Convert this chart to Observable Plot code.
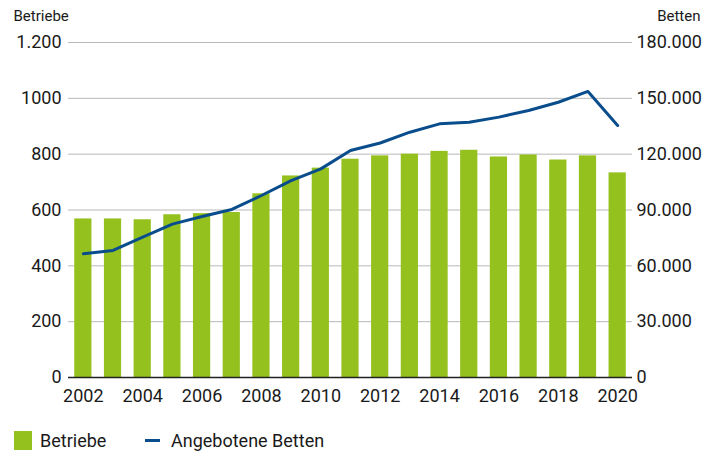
<!DOCTYPE html>
<html>
<head>
<meta charset="utf-8">
<script src="https://cdn.jsdelivr.net/npm/d3@7"></script>
<script src="https://cdn.jsdelivr.net/npm/@observablehq/plot@0.6"></script>
<style>
  body { margin: 0; background: #fff; font-family: Roboto, "Noto Sans", sans-serif; color: #1a1a1a; }
  #chart { position: relative; width: 707px; }
  .legend { position: relative; height: 42px; width: 707px; font-size: 18px; }
  .legend .item { position: absolute; top: 4px; display: flex; align-items: center; height: 42px; }
</style>
</head>
<body>
<div id="chart"></div>
<div class="legend">
  <div class="item" style="left:14px"><span style="display:inline-block;width:18px;height:19px;background:#95c11f;margin-right:8px"></span>Betriebe</div>
  <div class="item" style="left:145px"><span style="display:inline-block;width:15px;height:3px;background:#0a4d8c;margin-right:11px"></span>Angebotene Betten</div>
</div>
<script>
const years = [2002, 2003, 2004, 2005, 2006, 2007, 2008, 2009, 2010, 2011, 2012, 2013, 2014, 2015, 2016, 2017, 2018, 2019, 2020];
const betriebe = [568, 568, 565, 583, 587, 591, 658, 722, 750, 782, 794, 800, 810, 814, 790, 797, 779, 794, 733];
const betten = [66500, 68300, 75400, 82400, 86500, 90300, 97800, 105800, 112100, 122000, 126000, 131800, 136300, 137200, 139900, 143500, 147900, 153700, 135400];
const leftTicks = [0, 200, 400, 600, 800, 1000, 1200];
const leftLabels = ["0", "200", "400", "600", "800", "1000", "1.200"];
const rightTicks = [0, 30000, 60000, 90000, 120000, 150000, 180000];
const rightLabels = ["0", "30.000", "60.000", "90.000", "120.000", "150.000", "180.000"];
const xTicks = [2002, 2004, 2006, 2008, 2010, 2012, 2014, 2016, 2018, 2020];

const ratio = rightTicks[rightTicks.length - 1] / leftTicks[leftTicks.length - 1];
const data = years.map((y, i) => ({year: y, betriebe: betriebe[i], betten: betten[i]}));

const chart = Plot.plot({
  width: 707,
  height: 415,
  marginTop: 42,
  marginBottom: 38,
  marginLeft: 68,
  marginRight: 75,
  style: {fontFamily: "Roboto, 'Noto Sans', sans-serif", fontSize: "18px", color: "#1a1a1a", background: "white", overflow: "visible"},
  x: {type: "band", domain: years, paddingInner: 0.42, paddingOuter: 0.21, round: false, label: null},
  y: {domain: [0, 1200], label: null},
  marks: [
    Plot.gridY(leftTicks, {stroke: "#b9b9b9", strokeOpacity: 1, strokeWidth: 1}),
    Plot.barY(data, {x: "year", y: "betriebe", fill: "#95c11f"}),
    Plot.ruleY([0], {stroke: "#222", strokeWidth: 1.5}),
    Plot.line(data, {x: "year", y: d => d.betten / ratio, stroke: "#0a4d8c", strokeWidth: 3, strokeLinejoin: "round"}),
    Plot.axisY(leftTicks, {anchor: "left", tickSize: 0, tickPadding: 7, tickFormat: d => leftLabels[leftTicks.indexOf(d)], label: null}),
    Plot.axisY(leftTicks, {anchor: "right", tickSize: 0, tickPadding: 4, tickFormat: d => rightLabels[leftTicks.indexOf(d)], label: null}),
    Plot.axisX(xTicks, {tickSize: 0, tickPadding: 12, tickFormat: d => String(d), label: null}),
    Plot.text(["Betriebe"], {frameAnchor: "top-left", text: d => d, dx: -55, dy: -32, textAnchor: "start", lineAnchor: "top", fontSize: 15}),
    Plot.text(["Betten"], {frameAnchor: "top-right", text: d => d, dx: 68, dy: -32, textAnchor: "end", lineAnchor: "top", fontSize: 15})
  ]
});
document.getElementById("chart").appendChild(chart);
</script>
</body>
</html>
